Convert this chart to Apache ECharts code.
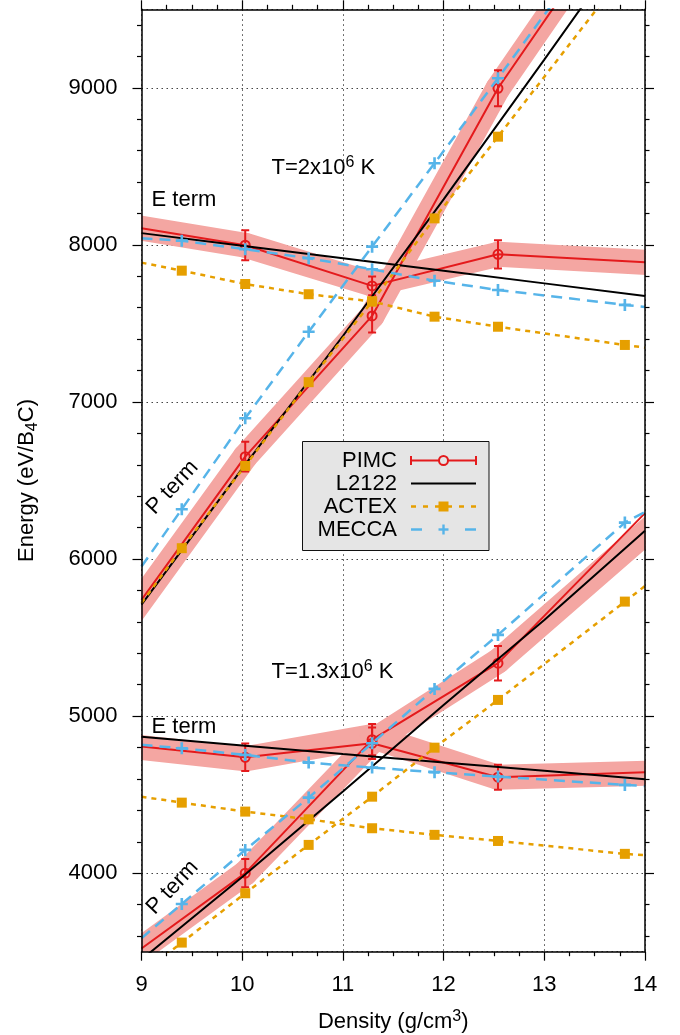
<!DOCTYPE html>
<html>
<head>
<meta charset="utf-8">
<title>B4C energy terms vs density</title>
<script src="https://cdn.jsdelivr.net/npm/echarts@6/dist/echarts.min.js"></script>
<style>
  html, body { margin: 0; padding: 0; background: #ffffff; }
  #chart { width: 680px; height: 1035px; }
</style>
</head>
<body>
<div id="chart"></div>
<script>
// ---------- data (energy in eV per B4C, density in g/cm^3) ----------
const xTickValues = [9, 10, 11, 12, 13, 14];
const yTickValues = [4000, 5000, 6000, 7000, 8000, 9000];
const edgeX = [9, 14];                       // curves run from frame to frame
const densityX = [9.4, 10.03, 10.66, 11.29, 11.91, 12.54, 13.8];

// PIMC points with error bars
const pimcX = [10.03, 11.29, 12.54];
const pimcHighE = [7998, 7739, 7940];
const pimcHighEErr = [95, 60, 90];
const pimcHighEEnds = [8106, 7889];
const pimcHighP = [6652, 7548, 8997];
const pimcHighPErr = [95, 105, 115];
const pimcHighPEnds = [5740, 10355];
const pimcLowE = [4738, 4827, 4611];
const pimcLowEErr = [88, 100, 80];
const pimcLowEEnds = [4806, 4643];
const pimcLowP = [4000, 4850, 5337];
const pimcLowPErr = [90, 100, 110];
const pimcLowPEnds = [3520, 6292];

// PIMC fit bands (centre line of the shaded band)
const bandX = [9, 10.03, 11.29, 12.54, 14];
const bandHighE = [8106, 7998, 7750, 7940, 7889];
const bandHighP = [5740, 6652, 7548, 8997, 10355];
const bandLowE = [4800, 4728, 4870, 4610, 4636];
const bandLowP = [3520, 4000, 4840, 5350, 6166];

// L2122 model
const l2122X = [9, 10, 11, 12, 13, 14];
const l2122HighE = [8075, 7995, 7915, 7835, 7755, 7675];
const l2122HighP = [5710, 6575, 7420, 8290, 9180, 10080];
const l2122LowE = [4868, 4813, 4758, 4705, 4652, 4598];
const l2122LowP = [3450, 3975, 4520, 5070, 5612, 6180];

// ACTEX
const actexHighE = [7836, 7751, 7686, 7640, 7543, 7479, 7363];
const actexHighEEnds = [7887, 7346];
const actexHighP = [6069, 6593, 7126, 7640, 8169, 8689, null];
const actexHighPEnds = [5720, 9898];
const actexLowE = [4449, 4392, 4343, 4286, 4244, 4205, 4123];
const actexLowEEnds = [4487, 4114];
const actexLowP = [3558, 3872, 4180, 4487, 4799, 5103, 5729];
const actexLowPEnds = [3360, 5828];

// MECCA
const meccaHighE = [8027, 7972, 7915, 7845, 7772, 7713, 7618];
const meccaHighEEnds = [8042, 7605];
const meccaHighP = [6317, 6896, 7447, 7989, 8520, 9061, null];
const meccaHighPEnds = [5952, 10343];
const meccaLowE = [4795, 4753, 4704, 4672, 4643, 4615, 4562];
const meccaLowEEnds = [4817, 4555];
const meccaLowP = [3804, 4148, 4481, 4827, 5173, 5517, 6232];
const meccaLowPEnds = [3586, 6300];

// ---------- styling ----------
const FONT = '"Liberation Sans", Arial, Helvetica, sans-serif';
const RED = '#e41a1c';
const BAND = '#f4a6a2';
const ORANGE = '#e69f00';
const BLUE = '#56b4e9';
const BLACK = '#000000';
const PLUS = 'path://M-1.1,-5 L1.1,-5 L1.1,-1.1 L5,-1.1 L5,1.1 L1.1,1.1 L1.1,5 L-1.1,5 L-1.1,1.1 L-5,1.1 L-5,-1.1 L-1.1,-1.1 Z';

// ---------- helpers ----------
function curve(xs, ys, ends) {
  const pts = [{ value: [edgeX[0], ends[0]], symbol: 'none' }];
  xs.forEach((x, i) => { if (ys[i] !== null) pts.push([x, ys[i]]); });
  pts.push({ value: [edgeX[1], ends[1]], symbol: 'none' });
  return pts;
}
function pairs(xs, ys) { return xs.map((x, i) => [x, ys[i]]); }
function segments(xs, ys) {
  const out = [];
  for (let i = 0; i < xs.length - 1; i++) {
    out.push([xs[i], ys[i], xs[i + 1], ys[i + 1], i === 0 ? 1 : 0, i === xs.length - 2 ? 1 : 0]);
  }
  return out;
}
function errRows(xs, ys, es) { return xs.map((x, i) => [x, ys[i], es[i]]); }

const bandData = [].concat(
  segments(bandX, bandHighE), segments(bandX, bandHighP),
  segments(bandX, bandLowE), segments(bandX, bandLowP)
);
const errData = [].concat(
  errRows(pimcX, pimcHighE, pimcHighEErr), errRows(pimcX, pimcHighP, pimcHighPErr),
  errRows(pimcX, pimcLowE, pimcLowEErr), errRows(pimcX, pimcLowP, pimcLowPErr)
);

function renderBand(params, api) {
  let p1 = api.coord([api.value(0), api.value(1)]);
  let p2 = api.coord([api.value(2), api.value(3)]);
  const dx = p2[0] - p1[0], dy = p2[1] - p1[1];
  const len = Math.hypot(dx, dy) || 1;
  const ux = dx / len, uy = dy / len;
  // open ends are pushed past the frame so the clip cuts them cleanly
  if (api.value(4)) p1 = [p1[0] - ux * 40, p1[1] - uy * 40];
  if (api.value(5)) p2 = [p2[0] + ux * 40, p2[1] + uy * 40];
  return {
    type: 'line',
    shape: { x1: p1[0], y1: p1[1], x2: p2[0], y2: p2[1] },
    style: { stroke: BAND, lineWidth: 25, lineCap: 'round' }
  };
}

function renderErr(params, api) {
  const x = api.value(0), y = api.value(1), e = api.value(2);
  const c = api.coord([x, y]);
  const hi = api.coord([x, y + e]);
  const lo = api.coord([x, y - e]);
  const cap = 4;
  const st = { stroke: RED, lineWidth: 2, fill: null };
  return {
    type: 'group',
    children: [
      { type: 'line', shape: { x1: c[0], y1: hi[1], x2: c[0], y2: lo[1] }, style: st },
      { type: 'line', shape: { x1: c[0] - cap, y1: hi[1], x2: c[0] + cap, y2: hi[1] }, style: st },
      { type: 'line', shape: { x1: c[0] - cap, y1: lo[1], x2: c[0] + cap, y2: lo[1] }, style: st },
      { type: 'circle', shape: { cx: c[0], cy: c[1], r: 4.5 }, style: { stroke: RED, lineWidth: 2, fill: 'none' } }
    ]
  };
}

function lineSeries(data, color, width, dash, symbol, size, z) {
  return {
    type: 'line', data: data, z: z,
    symbol: symbol || 'none', symbolSize: size || 0,
    itemStyle: { color: color, borderWidth: 0 },
    lineStyle: { color: color, width: width, type: dash || 'solid' },
    emphasis: { disabled: true }, silent: true, clip: true
  };
}

// ---------- axes ----------
const frameLine = { show: true, onZero: false, lineStyle: { color: BLACK, width: 1.5 } };
const tickStyle = { color: BLACK, width: 1.2 };
const gridLine = { show: true, lineStyle: { color: '#444', width: 1, type: [1.5, 3.5] } };
const labelStyle = { color: BLACK, fontSize: 22, fontFamily: FONT, formatter: v => String(v) };

function xFrame(pos) {
  return {
    type: 'value', min: 9, max: 14, interval: 1, position: pos, z: 5,
    axisLine: frameLine,
    axisTick: { show: true, inside: false, length: 9, lineStyle: tickStyle },
    minorTick: { show: true, splitNumber: 4, length: 4.5, lineStyle: tickStyle },
    axisLabel: { show: false }, splitLine: { show: false }
  };
}
function yFrame(pos) {
  return {
    type: 'value', min: 3500, max: 9500, splitNumber: 6, position: pos, z: 5,
    axisLine: frameLine,
    axisTick: { show: true, inside: false, length: 9, lineStyle: tickStyle, customValues: yTickValues },
    minorTick: { show: true, splitNumber: 5, length: 4.5, lineStyle: tickStyle },
    axisLabel: { show: false }, splitLine: { show: false }
  };
}

const option = {
  animation: false,
  backgroundColor: '#ffffff',
  textStyle: { fontFamily: FONT },
  grid: { left: 141.5, right: 35, top: 9.3, bottom: 83.3, containLabel: false, outerBoundsMode: 'none' },
  xAxis: [
    {
      type: 'value', min: 9, max: 14, interval: 1, position: 'bottom', z: 0,
      axisLine: { show: false, onZero: false }, axisTick: { show: false },
      axisLabel: Object.assign({ margin: 22, customValues: xTickValues }, labelStyle),
      splitLine: gridLine,
      name: '{n|Density (g/cm}{sup|3}{n|)}', nameLocation: 'middle', nameGap: 57,
      nameTextStyle: {
        color: BLACK, fontSize: 22, fontFamily: FONT,
        rich: {
          n: { fontSize: 22, lineHeight: 26, verticalAlign: 'middle', fontFamily: FONT, color: BLACK },
          sup: { fontSize: 16, lineHeight: 16, verticalAlign: 'top', fontFamily: FONT, color: BLACK }
        }
      }
    },
    xFrame('bottom'),
    xFrame('top')
  ],
  yAxis: [
    {
      type: 'value', min: 3500, max: 9500, splitNumber: 6, position: 'left', z: 0,
      axisLine: { show: false, onZero: false }, axisTick: { show: false },
      axisLabel: Object.assign({ margin: 24, customValues: yTickValues }, labelStyle),
      splitLine: gridLine,
      name: '{n|Energy (eV/B}{sub|4}{n|C)}', nameLocation: 'middle', nameRotate: 90, nameGap: 101,
      nameTextStyle: {
        color: BLACK, fontSize: 22, fontFamily: FONT,
        rich: {
          n: { fontSize: 22, lineHeight: 28, verticalAlign: 'middle', fontFamily: FONT, color: BLACK },
          sub: { fontSize: 16, lineHeight: 16, verticalAlign: 'bottom', fontFamily: FONT, color: BLACK }
        }
      }
    },
    yFrame('left'),
    yFrame('right')
  ],
  series: [
    {
      type: 'custom', name: 'PIMC band', data: bandData, renderItem: renderBand,
      encode: { x: [0, 2], y: [1, 3] }, clip: true, z: 1, silent: true
    },
    lineSeries(curve(pimcX, pimcHighE, pimcHighEEnds), RED, 2, 'solid', 'none', 0, 2),
    lineSeries(curve(pimcX, pimcHighP, pimcHighPEnds), RED, 2, 'solid', 'none', 0, 2),
    lineSeries(curve(pimcX, pimcLowE, pimcLowEEnds), RED, 2, 'solid', 'none', 0, 2),
    lineSeries(curve(pimcX, pimcLowP, pimcLowPEnds), RED, 2, 'solid', 'none', 0, 2),
    {
      type: 'custom', name: 'PIMC', data: errData, renderItem: renderErr,
      encode: { x: 0, y: 1 }, clip: true, z: 2, silent: true
    },
    lineSeries(pairs(l2122X, l2122HighE), BLACK, 2, 'solid', 'none', 0, 2),
    lineSeries(pairs(l2122X, l2122HighP), BLACK, 2, 'solid', 'none', 0, 2),
    lineSeries(pairs(l2122X, l2122LowE), BLACK, 2, 'solid', 'none', 0, 2),
    lineSeries(pairs(l2122X, l2122LowP), BLACK, 2, 'solid', 'none', 0, 2),
    lineSeries(curve(densityX, actexHighE, actexHighEEnds), ORANGE, 2.5, [5, 5], 'rect', 10, 3),
    lineSeries(curve(densityX, actexHighP, actexHighPEnds), ORANGE, 2.5, [5, 5], 'rect', 10, 3),
    lineSeries(curve(densityX, actexLowE, actexLowEEnds), ORANGE, 2.5, [5, 5], 'rect', 10, 3),
    lineSeries(curve(densityX, actexLowP, actexLowPEnds), ORANGE, 2.5, [5, 5], 'rect', 10, 3),
    lineSeries(curve(densityX, meccaHighE, meccaHighEEnds), BLUE, 2.5, [11, 7], PLUS, 12, 4),
    lineSeries(curve(densityX, meccaHighP, meccaHighPEnds), BLUE, 2.5, [11, 7], PLUS, 12, 4),
    lineSeries(curve(densityX, meccaLowE, meccaLowEEnds), BLUE, 2.5, [11, 7], PLUS, 12, 4),
    lineSeries(curve(densityX, meccaLowP, meccaLowPEnds), BLUE, 2.5, [11, 7], PLUS, 12, 4)
  ],
  graphic: { elements: [] }
};

// ---------- annotations and key ----------
const textFont = '22px ' + FONT;
const supRich = {
  n: { fontSize: 22, lineHeight: 26, verticalAlign: 'middle', fontFamily: FONT, fill: BLACK },
  sup: { fontSize: 16, lineHeight: 16, verticalAlign: 'top', fontFamily: FONT, fill: BLACK }
};
function label(x, y, text, rot, align) {
  return {
    type: 'text', x: x, y: y, rotation: rot || 0, z: 50,
    style: { text: text, font: textFont, fill: BLACK, align: align || 'left', verticalAlign: 'middle', rich: supRich }
  };
}
const els = option.graphic.elements;
els.push(label(271.5, 167.5, '{n|T=2x10}{sup|6}{n| K}'));
els.push(label(151.5, 199.5, 'E term'));
els.push(label(172.5, 487.5, 'P term', 47 * Math.PI / 180, 'center'));
els.push(label(271.5, 671.5, '{n|T=1.3x10}{sup|6}{n| K}'));
els.push(label(151.5, 727, 'E term'));
els.push(label(172.5, 887.5, 'P term', 47 * Math.PI / 180, 'center'));

// key box
const keyNames = ['PIMC', 'L2122', 'ACTEX', 'MECCA'];
const keyY = [460.5, 483.5, 506.5, 529.5];
const kx1 = 411, kx2 = 476, kxm = 443.5;
els.push({ type: 'rect', z: 60, shape: { x: 302.5, y: 441.5, width: 186.5, height: 109 },
  style: { fill: '#e5e5e5', stroke: '#111', lineWidth: 1 } });
keyNames.forEach((n, i) => {
  els.push({ type: 'text', x: 397, y: keyY[i], z: 61,
    style: { text: n, font: textFont, fill: BLACK, align: 'right', verticalAlign: 'middle' } });
});
const rs = { stroke: RED, lineWidth: 2 };
els.push({ type: 'line', z: 61, shape: { x1: kx1, y1: keyY[0], x2: kx2, y2: keyY[0] }, style: rs });
els.push({ type: 'line', z: 61, shape: { x1: kx1, y1: keyY[0] - 4.5, x2: kx1, y2: keyY[0] + 4.5 }, style: rs });
els.push({ type: 'line', z: 61, shape: { x1: kx2, y1: keyY[0] - 4.5, x2: kx2, y2: keyY[0] + 4.5 }, style: rs });
els.push({ type: 'circle', z: 62, shape: { cx: kxm, cy: keyY[0], r: 4.5 }, style: { stroke: RED, lineWidth: 2, fill: '#e5e5e5' } });
els.push({ type: 'line', z: 61, shape: { x1: kx1, y1: keyY[1], x2: kx2, y2: keyY[1] }, style: { stroke: BLACK, lineWidth: 2.2 } });
els.push({ type: 'line', z: 61, shape: { x1: kx1, y1: keyY[2], x2: kx2, y2: keyY[2] }, style: { stroke: ORANGE, lineWidth: 2.5, lineDash: [5, 7] } });
els.push({ type: 'rect', z: 62, shape: { x: kxm - 5, y: keyY[2] - 5, width: 10, height: 10 }, style: { fill: ORANGE } });
els.push({ type: 'line', z: 61, shape: { x1: kx1, y1: keyY[3], x2: kx1 + 11, y2: keyY[3] }, style: { stroke: BLUE, lineWidth: 2.5 } });
els.push({ type: 'line', z: 61, shape: { x1: kx2 - 11, y1: keyY[3], x2: kx2, y2: keyY[3] }, style: { stroke: BLUE, lineWidth: 2.5 } });
els.push({ type: 'line', z: 61, shape: { x1: kxm - 5, y1: keyY[3], x2: kxm + 5, y2: keyY[3] }, style: { stroke: BLUE, lineWidth: 2.4 } });
els.push({ type: 'line', z: 61, shape: { x1: kxm, y1: keyY[3] - 5, x2: kxm, y2: keyY[3] + 5 }, style: { stroke: BLUE, lineWidth: 2.4 } });

const chart = echarts.init(document.getElementById('chart'), null, { renderer: 'canvas' });
chart.setOption(option);
</script>
</body>
</html>
